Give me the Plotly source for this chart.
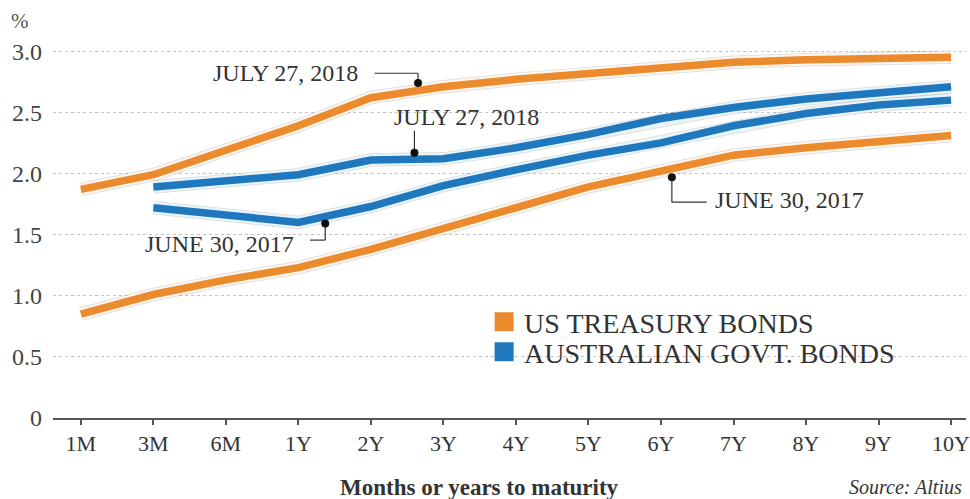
import plotly.graph_objects as go

# ---- data ----
categories = ["1M", "3M", "6M", "1Y", "2Y", "3Y", "4Y", "5Y", "6Y", "7Y", "8Y", "9Y", "10Y"]
us_jul_2018 = [1.87, 1.99, 2.19, 2.39, 2.62, 2.71, 2.77, 2.82, 2.86, 2.91, 2.93, 2.94, 2.95]
us_jun_2017 = [0.85, 1.01, 1.13, 1.23, 1.38, 1.55, 1.72, 1.89, 2.02, 2.15, 2.21, 2.26, 2.31]
aus_jul_2018 = [None, 1.89, 1.94, 1.99, 2.11, 2.12, 2.21, 2.32, 2.45, 2.54, 2.61, 2.66, 2.71]
aus_jun_2017 = [None, 1.72, 1.66, 1.60, 1.73, 1.90, 2.03, 2.15, 2.25, 2.39, 2.49, 2.56, 2.60]
y_tick_vals = [0, 0.5, 1.0, 1.5, 2.0, 2.5, 3.0]
y_tick_text = ["0", "0.5", "1.0", "1.5", "2.0", "2.5", "3.0"]

series_names = ["US TREASURY BONDS", "AUSTRALIAN GOVT. BONDS"]

ORANGE = "#EC8A2E"
BLUE = "#1F77BE"
TXT = "#333333"
SERIF = "Liberation Serif, Times New Roman, serif"

W, H = 970, 499
ML, MR, MT, MB = 53, 0, 39, 81
pw, ph = W - ML - MR, H - MT - MB


def px_x(p):
    return (p - ML) / pw


def px_y(p):
    return (H - MB - p) / ph


fig = go.Figure()


def add_line(values, color, edge):
    fig.add_trace(go.Scatter(x=categories, y=values, mode="lines",
                             line=dict(color="rgba(60,60,60,0.16)", width=13.5),
                             hoverinfo="skip", showlegend=False))
    fig.add_trace(go.Scatter(x=categories, y=values, mode="lines",
                             line=dict(color=edge, width=11.5),
                             hoverinfo="skip", showlegend=False))
    fig.add_trace(go.Scatter(x=categories, y=values, mode="lines",
                             line=dict(color=color, width=7.5),
                             showlegend=False))


add_line(us_jun_2017, ORANGE, "#fff6ee")
add_line(us_jul_2018, ORANGE, "#fff6ee")
add_line(aus_jun_2017, BLUE, "#e8f5fd")
add_line(aus_jul_2018, BLUE, "#e8f5fd")

# legend-only entries (one legend per row)
for name, col, lg in zip(series_names, [ORANGE, BLUE], ["legend", "legend2"]):
    fig.add_trace(go.Scatter(x=[None], y=[None], mode="markers", name=name, legend=lg,
                             marker=dict(symbol="square", size=16, color=col,
                                         line=dict(color=col, width=3))))

# white patch behind the legend hiding the gridline
fig.add_shape(type="rect", xref="paper", yref="paper", layer="between",
              x0=px_x(485), x1=px_x(926), y0=px_y(375), y1=px_y(306),
              fillcolor="white", line=dict(width=0))

# ---- callouts: (label, text x, text y, anchor, leader path points, dot) ----
callouts = [
    ("JULY 27, 2018", 3.85, 2.82, "right", [(4.05, 2.82), (4.65, 2.82), (4.65, 2.74)], (4.65, 2.74)),
    ("JULY 27, 2018", 4.29, 2.46, "left", [(4.60, 2.35), (4.60, 2.17)], (4.60, 2.17)),
    ("JUNE 30, 2017", 2.96, 1.42, "right", [(3.16, 1.455), (3.37, 1.455), (3.37, 1.59)], (3.37, 1.59)),
    ("JUNE 30, 2017", 8.72, 1.78, "left", [(8.63, 1.765), (8.15, 1.765), (8.15, 1.97)], (8.15, 1.97)),
]

for label, tx, ty, anchor, pts, dot in callouts:
    fig.add_annotation(x=tx, y=ty, xref="x", yref="y", text=label, showarrow=False,
                       xanchor=anchor, yanchor="middle",
                       font=dict(family=SERIF, size=24, color=TXT))
    for (x0, y0), (x1, y1) in zip(pts[:-1], pts[1:]):
        fig.add_shape(type="line", xref="x", yref="y", x0=x0, y0=y0, x1=x1, y1=y1,
                      line=dict(color="#333333", width=1.2))
    fig.add_shape(type="circle", xref="x", yref="y",
                  xsizemode="pixel", ysizemode="pixel",
                  xanchor=dot[0], yanchor=dot[1], x0=-4, x1=4, y0=-4, y1=4,
                  fillcolor="#111111", line=dict(width=0))

# ---- text ----
fig.add_annotation(x=px_x(20), y=px_y(21), xref="paper", yref="paper", text="%",
                   showarrow=False, xanchor="center", yanchor="middle",
                   font=dict(family=SERIF, size=21, color="#555555"))
fig.add_annotation(x=px_x(481), y=px_y(487), xref="paper", yref="paper",
                   text="<b>Months or years to maturity</b>", showarrow=False,
                   xanchor="center", yanchor="middle",
                   font=dict(family=SERIF, size=23, color=TXT))
fig.add_annotation(x=px_x(968), y=px_y(487), xref="paper", yref="paper",
                   text="<i>Source: Altius</i>", showarrow=False,
                   xanchor="right", yanchor="middle",
                   font=dict(family=SERIF, size=20, color=TXT))

legend_common = dict(xanchor="left", yanchor="top", bgcolor="rgba(0,0,0,0)",
                     borderwidth=0, itemwidth=30,
                     font=dict(family=SERIF, size=28, color=TXT))

fig.update_layout(
    width=W, height=H,
    margin=dict(l=ML, r=MR, t=MT, b=MB, pad=0),
    plot_bgcolor="white", paper_bgcolor="white",
    font=dict(family=SERIF, color=TXT),
    showlegend=True,
    legend=dict(x=px_x(486), y=px_y(297), **legend_common),
    legend2=dict(x=px_x(486), y=px_y(327), **legend_common),
    xaxis=dict(type="category", range=[-0.384, 12.206],
               showgrid=False, showline=True, linecolor="#555555", linewidth=2,
               ticks="outside", ticklen=5, tickcolor="#555555", tickwidth=1.5,
               tickfont=dict(family=SERIF, size=22, color=TXT),
               ticklabelstandoff=0, zeroline=False, fixedrange=True),
    yaxis=dict(range=[0, 3.1], tickvals=y_tick_vals, ticktext=y_tick_text,
               showgrid=True, gridcolor="#c4c4c4", griddash="dot", gridwidth=1,
               zeroline=False, showline=False, ticks="",
               tickfont=dict(family=SERIF, size=24, color="#444444"),
               ticklabelstandoff=10, fixedrange=True),
)

fig.write_html("out.html", config={"displayModeBar": False},
               post_script="document.body.style.margin='0';")
